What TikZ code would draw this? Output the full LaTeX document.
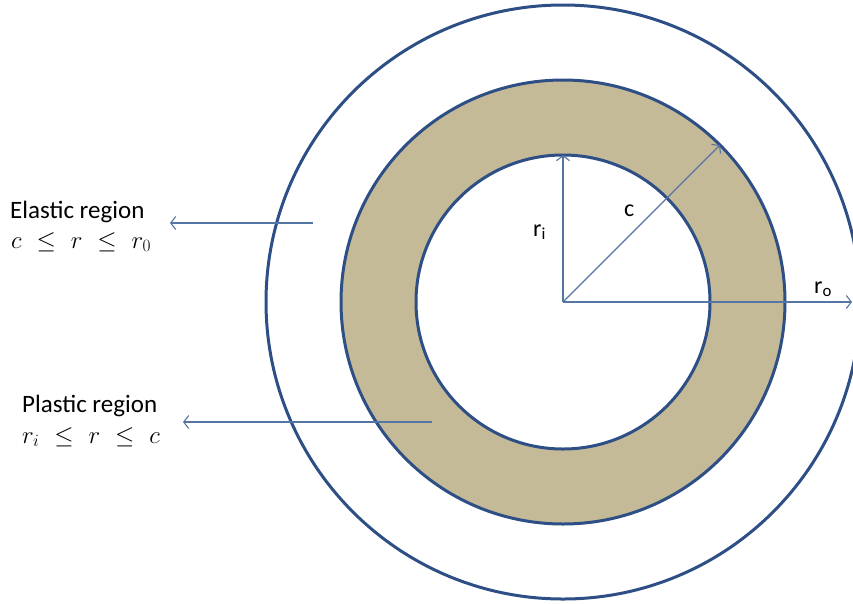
\documentclass[tikz,border=0pt]{standalone}
\usepackage{fontspec}
\setmainfont{Carlito}
\usetikzlibrary{arrows.meta}
\definecolor{ringblue}{HTML}{2E4F85}
\definecolor{arrowblue}{HTML}{5575A5}
\definecolor{tanfill}{HTML}{C4BA97}
\tikzset{
  ring/.style={circle, draw=ringblue, line width=3pt, inner sep=0pt, outer sep=0pt},
  pointer/.style={draw=arrowblue, line width=1.1pt, -{Straight Barb[length=5pt,width=13pt]}},
  lbl/.style={font=\fontsize{24}{28}\selectfont, inner sep=0pt, anchor=base west},
  tlbl/.style={font=\fontsize{25}{28}\selectfont, inner sep=0pt, anchor=base west},
  mlbl/.style={font=\fontsize{23}{28}\selectfont, inner sep=0pt, anchor=base west},
}
\begin{document}
\begin{tikzpicture}[x=1pt,y=-1pt]
\useasboundingbox (0,0) rectangle (853,603);
\clip (0,0) rectangle (853,603);
\coordinate (cen) at (563,302);
\node[ring, minimum size=594pt] (outer) at (cen) {};
\node[ring, fill=tanfill, minimum size=444pt] (mid) at (cen) {};
\node[ring, fill=white, minimum size=294pt] (inner) at (cen) {};
% radii
\coordinate (rotip) at (852,302);
\draw[pointer] (cen) -- (inner.north);
\draw[pointer] (cen) -- (mid.north east);
\draw[pointer] (cen) -- (rotip);
\node[lbl] (ri) at (533,236) {r\textsubscript{i}};
\node[lbl] (cl) at (624,216) {c};
\node[lbl] (ro) at (814,293) {r\textsubscript{o}};
% region pointers
\coordinate (es) at (313,223);
\coordinate (ee) at (170,223);
\coordinate (ps) at (432,422);
\coordinate (pe) at (183,422);
\draw[pointer] (es) -- (ee);
\draw[pointer] (ps) -- (pe);
\node[tlbl] (el) at (10,218) {Elastic region};
\node[mlbl] (elm) at (11,248) {$c\ \mkern2mu\le\ \mkern2mu r\ \mkern2mu\le\ \mkern2mu r_0$};
\node[tlbl] (pl) at (22,412) {Plastic region};
\node[mlbl] (plm) at (22,443) {$r_i\ \mkern2mu\le\ \mkern2mu r\ \mkern2mu\le\ \mkern2mu c$};
\end{tikzpicture}
\end{document}
